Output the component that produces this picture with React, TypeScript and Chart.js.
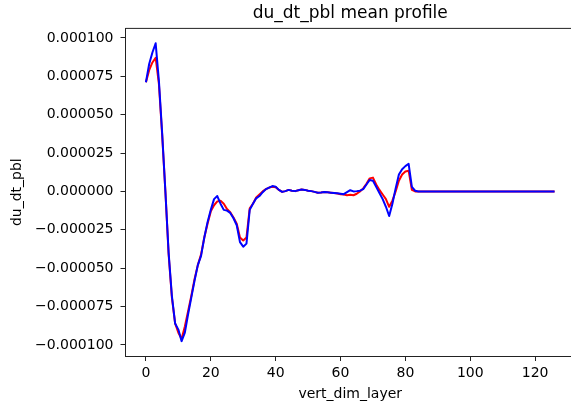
import React, { useEffect, useRef } from "react";
import { Chart, registerables } from "chart.js";

Chart.register(...registerables);

const layers: number[] = Array.from({ length: 127 }, (_, i) => i);

const blueSeries: number[] = [
  0.0000711, 0.000083, 0.0000905, 0.0000965, 0.000072, 0.000038, 0.0, -0.00004, -0.000068, -0.000086,
  -0.00009, -0.0000975, -0.000092, -0.00008, -0.000069, -0.000058, -0.000048, -0.000042, -0.00003, -0.00002,
  -0.000012, -0.000005, -0.000003, -0.000008, -0.000012, -0.0000125, -0.000014, -0.0000175, -0.000022, -0.000033,
  -0.000036, -0.000034, -0.000012, -0.000008, -0.0000045, -0.000003, -0.0000005, 0.0000015, 0.0000025, 0.0000035,
  0.000003, 0.000001, -0.0000003, 0.0000002, 0.000001, 0.0000005, 0.0000002, 0.0000008, 0.0000012, 0.000001,
  0.0000005, 0.0000002, -0.0000003, -0.0000008, -0.0000007, -0.0000004, -0.0000006, -0.0000008, -0.000001, -0.0000012,
  -0.0000015, -0.0000018, -0.0000005, 0.0000008, 0.0, 0.0000002, 0.0000005, 0.0000015, 0.0000045, 0.0000075,
  0.000007, 0.000003, -0.000001, -0.000005, -0.00001, -0.000016, -0.000008, 0.000002, 0.000011, 0.0000145,
  0.0000165, 0.000018, 0.000003, 0.0000005, 0, 0, 0, 0, 0, 0,
  0, 0, 0, 0, 0, 0, 0, 0, 0, 0,
  0, 0, 0, 0, 0, 0, 0, 0, 0, 0,
  0, 0, 0, 0, 0, 0, 0, 0, 0, 0,
  0, 0, 0, 0, 0, 0, 0,
];

const redSeries: number[] = [
  0.0000711, 0.000079, 0.000084, 0.000087, 0.00007, 0.000037, 0.0, -0.000041, -0.000069, -0.000086,
  -0.000092, -0.000096, -0.000088, -0.000078, -0.000068, -0.000057, -0.000048, -0.000041, -0.00003, -0.000021,
  -0.000013, -0.000009, -0.0000065, -0.000006, -0.000008, -0.0000115, -0.0000135, -0.000017, -0.000021, -0.00003,
  -0.000032, -0.00003, -0.000011, -0.000008, -0.000004, -0.000002, 0.0, 0.0000015, 0.0000025, 0.000003,
  0.0000028, 0.000001, -0.0000003, 0.0000002, 0.000001, 0.0000005, 0.0000002, 0.0000008, 0.0000012, 0.000001,
  0.0000005, 0.0000002, -0.0000003, -0.0000008, -0.0000007, -0.0000004, -0.0000006, -0.0000008, -0.000001, -0.0000014,
  -0.0000018, -0.000002, -0.0000025, -0.0000022, -0.0000025, -0.0000015, 0.0, 0.000002, 0.000005, 0.0000085,
  0.000009, 0.0000045, 0.000001, -0.000002, -0.000005, -0.00001, -0.000006, 0.0, 0.000007, 0.000011,
  0.000013, 0.0000135, 0.000001, 0.0, 0, 0, 0, 0, 0, 0,
  0, 0, 0, 0, 0, 0, 0, 0, 0, 0,
  0, 0, 0, 0, 0, 0, 0, 0, 0, 0,
  0, 0, 0, 0, 0, 0, 0, 0, 0, 0,
  0, 0, 0, 0, 0, 0, 0,
];

const xTickValues: number[] = [0, 20, 40, 60, 80, 100, 120];
const yTickValues: number[] = [-0.0001, -0.000075, -0.00005, -0.000025, 0, 0.000025, 0.00005, 0.000075, 0.0001];

const titleText = "du_dt_pbl mean profile";
const xLabel = "vert_dim_layer";
const yLabel = "du_dt_pbl";

const FONT = "'DejaVu Sans', sans-serif";
const CANVAS_W = 600;
const PLOT_RIGHT = 575;

const framePlugin = {
  id: "frame",
  afterDraw(chart: any) {
    const { ctx, chartArea } = chart;
    ctx.save();
    ctx.fillStyle = "#fff";
    ctx.fillRect(565, chartArea.top + 1, chart.width - 565, chartArea.bottom - chartArea.top - 2);
    ctx.strokeStyle = "#222";
    ctx.lineWidth = 1;
    ctx.beginPath();
    ctx.moveTo(chartArea.left, chartArea.top);
    ctx.lineTo(chart.width, chartArea.top);
    ctx.stroke();
    ctx.fillStyle = "#000";
    ctx.font = "17px " + FONT;
    ctx.textAlign = "center";
    ctx.textBaseline = "middle";
    ctx.fillText(titleText, (chartArea.left + chartArea.right) / 2, 14);
    ctx.restore();
  },
};

export default function App() {
  const ref = useRef<HTMLCanvasElement | null>(null);

  useEffect(() => {
    if (!ref.current) return;
    const all = [...blueSeries, ...redSeries];
    const lo = Math.min(...all);
    const hi = Math.max(...all);
    const yPad = (hi - lo) * 0.05;
    const xLo = layers[0];
    const xHi = layers[layers.length - 1];
    const xPad = (xHi - xLo) * 0.05;

    const chart = new Chart(ref.current, {
      type: "line",
      data: {
        datasets: [
          {
            label: "blue",
            data: layers.map((x, i) => ({ x, y: blueSeries[i] })),
            borderColor: "#0000ff",
            borderWidth: 2,
            pointRadius: 0,
            tension: 0,
            borderJoinStyle: "round",
            order: 0,
          },
          {
            label: "red",
            data: layers.map((x, i) => ({ x, y: redSeries[i] })),
            borderColor: "#ff0000",
            borderWidth: 2,
            pointRadius: 0,
            tension: 0,
            borderJoinStyle: "round",
            order: 1,
          },
        ],
      },
      options: {
        animation: false,
        responsive: false,
        events: [],
        layout: { padding: { left: 0, right: CANVAS_W - PLOT_RIGHT, top: 28.4, bottom: 0 } },
        plugins: {
          legend: { display: false },
          tooltip: { enabled: false },
          title: { display: false },
        },
        scales: {
          x: {
            type: "linear",
            min: xLo - xPad,
            max: xHi + xPad,
            afterBuildTicks: (s: any) => {
              s.ticks = xTickValues.map((v) => ({ value: v }));
            },
            afterFit: (s: any) => {
              s.height = 54;
            },
            grid: { drawOnChartArea: false, drawTicks: true, tickLength: 5, color: "#222", lineWidth: 1 },
            border: { display: true, color: "#222", width: 1 },
            ticks: {
              color: "#000",
              font: { family: FONT, size: 14 },
              padding: 4,
              maxRotation: 0,
              autoSkip: false,
              callback: (v: any) => String(v),
            },
            title: {
              display: true,
              text: xLabel,
              color: "#000",
              font: { family: FONT, size: 14, lineHeight: 1.2 },
              padding: { top: 0, bottom: 7.6 },
            },
          },
          y: {
            type: "linear",
            min: lo - yPad,
            max: hi + yPad,
            afterBuildTicks: (s: any) => {
              s.ticks = yTickValues.map((v) => ({ value: v }));
            },
            afterFit: (s: any) => {
              s.width = 125.5;
            },
            grid: { drawOnChartArea: false, drawTicks: true, tickLength: 5, color: "#222", lineWidth: 1 },
            border: { display: true, color: "#222", width: 1 },
            ticks: {
              color: "#000",
              font: { family: FONT, size: 14 },
              padding: 7,
              autoSkip: false,
              callback: (v: any) => {
                const n = Number(v);
                const s = Math.abs(n).toFixed(6);
                return n < -1e-12 ? "\u2212" + s : s;
              },
            },
            title: {
              display: true,
              text: yLabel,
              color: "#000",
              font: { family: FONT, size: 14, lineHeight: 1.2 },
              padding: { top: 9, bottom: 0 },
            },
          },
        },
      },
      plugins: [framePlugin],
    } as any);
    return () => chart.destroy();
  }, []);

  return (
    <div style={{ position: "absolute", left: 0, top: 0, width: 571, height: 410, overflow: "hidden", background: "#fff" }}>
      <canvas ref={ref} width={CANVAS_W} height={410} style={{ width: CANVAS_W, height: 410, display: "block" }} />
    </div>
  );
}
